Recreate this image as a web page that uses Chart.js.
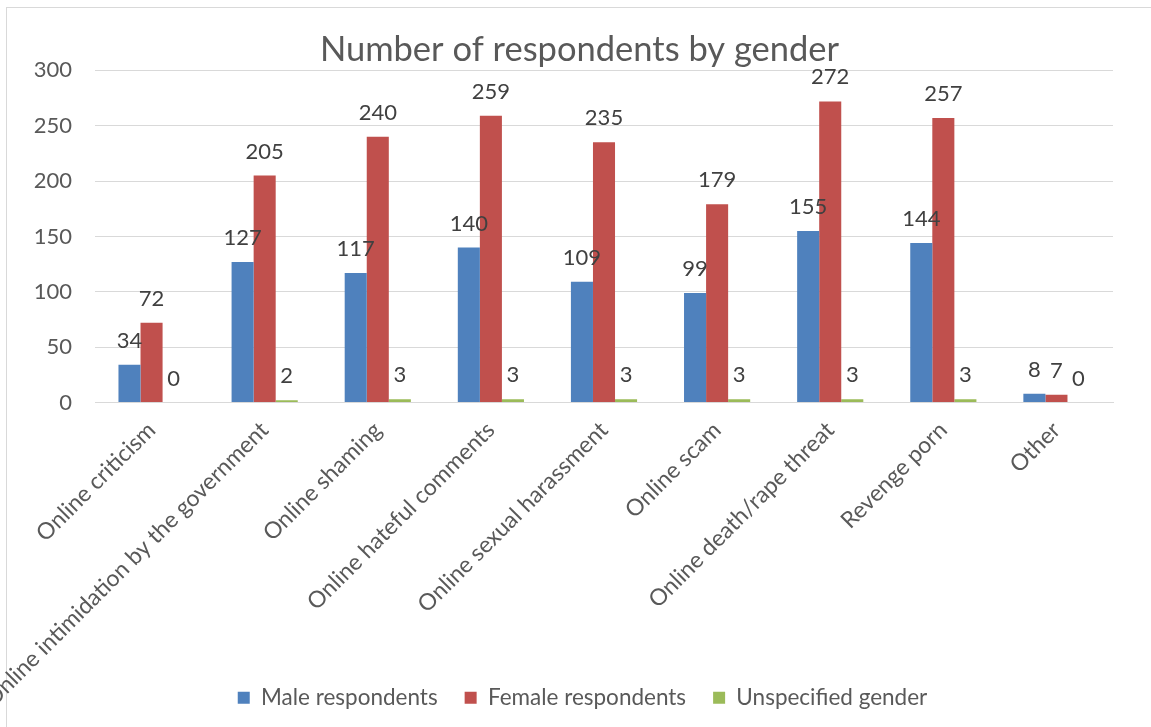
<!DOCTYPE html>
<html>
<head>
<meta charset="utf-8">
<script src="https://cdn.jsdelivr.net/npm/chart.js@4"></script>
<style>
  html, body { margin: 0; padding: 0; background: #fff; }
  .chart-box { position: relative; width: 1151px; height: 727px; overflow: hidden; }
  .chart-frame { position: absolute; left: 6px; top: 7px; right: -5px; bottom: -5px; border: 1px solid #d9d9d9; }
  canvas { position: absolute; left: 0; top: 0; }
</style>
</head>
<body>
<div class="chart-box">
  <div class="chart-frame"></div>
  <canvas id="chart-gender" width="1151" height="727"></canvas>
</div>
<script>
// data
const categories = [
  'Online criticism',
  'Online intimidation by the government',
  'Online shaming',
  'Online hateful comments',
  'Online sexual harassment',
  'Online scam',
  'Online death/rape threat',
  'Revenge porn',
  'Other'
];
const maleRespondents = [34, 127, 117, 140, 109, 99, 155, 144, 8];
const femaleRespondents = [72, 205, 240, 259, 235, 179, 272, 257, 7];
const unspecifiedGender = [0, 2, 3, 3, 3, 3, 3, 3, 0];
const yTicks = [0, 50, 100, 150, 200, 250, 300];

const FONT = 'Lato, "Open Sans", sans-serif';
const TEXT_COLOR = '#595959';
const GRID_COLOR = '#d9d9d9';

// value labels above each bar
const valueLabels = {
  id: 'valueLabels',
  afterDatasetsDraw(chart) {
    const ctx = chart.ctx;
    ctx.save();
    ctx.font = `22px ${FONT}`;
    ctx.fillStyle = '#404040';
    ctx.textAlign = 'center';
    ctx.textBaseline = 'middle';
    chart.data.datasets.forEach((ds, i) => {
      const meta = chart.getDatasetMeta(i);
      meta.data.forEach((bar, j) => {
        ctx.fillText(String(ds.data[j]), bar.x, bar.y - 24);
      });
    });
    ctx.restore();
  }
};

// title and legend are centred on the whole frame; long x labels may run past the axis box
const shiftBlocks = {
  id: 'shiftBlocks',
  afterLayout(chart) {
    if (chart.titleBlock) { chart.titleBlock.left += 23; chart.titleBlock.right += 23; }
    if (chart.legend) { chart.legend.left += 26; chart.legend.right += 26; }
    if (chart.scales.x) chart.scales.x.bottom = chart.height;
  }
};

new Chart(document.getElementById('chart-gender').getContext('2d'), {
  type: 'bar',
  data: {
    labels: categories,
    datasets: [
      { label: 'Male respondents', data: maleRespondents, backgroundColor: '#4F81BD' },
      { label: 'Female respondents', data: femaleRespondents, backgroundColor: '#C0504D' },
      { label: 'Unspecified gender', data: unspecifiedGender, backgroundColor: '#9BBB59' }
    ]
  },
  options: {
    responsive: false,
    animation: false,
    layout: { padding: { left: 0, right: 38, top: 0, bottom: 8 } },
    datasets: { bar: { categoryPercentage: 0.585, barPercentage: 1.0 } },
    plugins: {
      title: {
        display: true,
        text: 'Number of respondents by gender',
        color: TEXT_COLOR,
        font: { family: FONT, size: 34.5, weight: 'normal' },
        padding: { top: 29, bottom: 0 }
      },
      legend: {
        position: 'bottom',
        labels: {
          color: TEXT_COLOR,
          font: { family: FONT, size: 22.5 },
          boxWidth: 12,
          boxHeight: 12,
          padding: 27
        }
      },
      tooltip: { enabled: false }
    },
    scales: {
      x: {
        grid: { display: false, drawTicks: false },
        border: { color: GRID_COLOR },
        ticks: {
          color: TEXT_COLOR,
          font: { family: FONT, size: 23 },
          minRotation: 45,
          maxRotation: 45,
          padding: 14
        },
        afterFit: (scale) => {
          scale.height = 257;
          scale.paddingLeft = 0;
          scale.paddingRight = 0;
        }
      },
      y: {
        min: 0,
        max: 300,
        afterBuildTicks: (scale) => { scale.ticks = yTicks.map(v => ({ value: v })); },
        grid: { color: GRID_COLOR, drawTicks: false },
        border: { display: false },
        ticks: {
          color: TEXT_COLOR,
          font: { family: FONT, size: 22 },
          padding: 23
        },
        afterFit: (scale) => {
          scale.width = 95;
          scale.paddingTop = 0;
          scale.paddingBottom = 0;
        }
      }
    }
  },
  plugins: [valueLabels, shiftBlocks]
});
</script>
</body>
</html>
